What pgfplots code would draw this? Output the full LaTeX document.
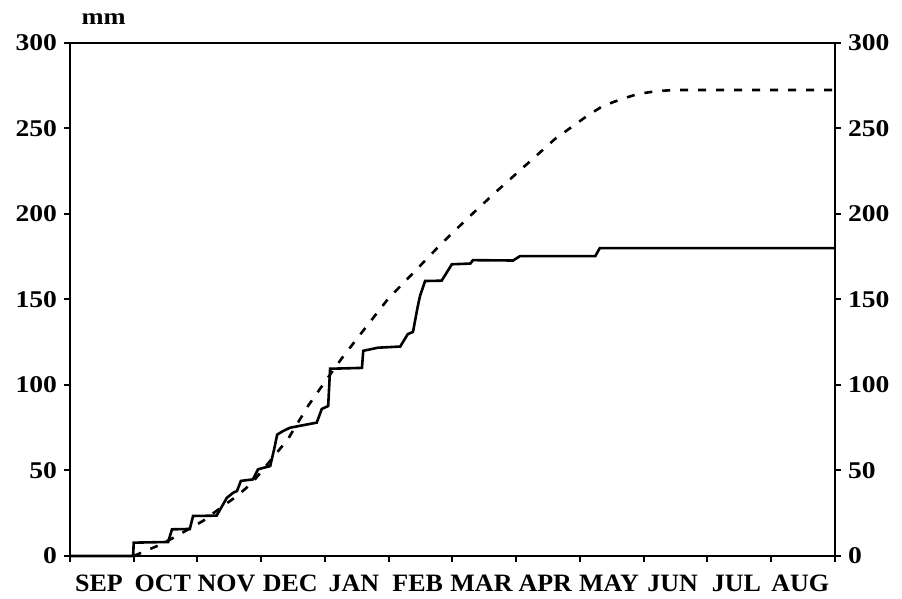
\documentclass[border=0pt]{standalone}
\usepackage{fontspec}
\setmainfont{Liberation Serif}[FakeStretch=1.15]
\newfontfamily\monthfont{Liberation Serif}[FakeStretch=1.04]
\usepackage{pgfplots}
\pgfplotsset{compat=1.18}
\begin{document}
\begin{tikzpicture}
\pgfplotsset{
 common/.style={
  scale only axis, width=382.5pt, height=256.5pt,
  xmin=0, xmax=12, ymin=0, ymax=300,
  axis line style={line width=1.3pt},
  tick style={line width=1.0pt, black},
  ytick={0,50,...,300},
  tick align=outside,
  major tick length=3pt,
  /pgf/number format/assume math mode=true,
  ticklabel style={font=\fontsize{12}{13}\selectfont\bfseries},
 }
}
\begin{axis}[common,
  clip=false,
  ytick pos=left,
  xtick={0,...,11},
  xticklabels={SEP,OCT,NOV,DEC,JAN,FEB,MAR,APR,MAY,JUN,JUL,AUG},
  xticklabel style={anchor=north, xshift=14.5pt, yshift=-3pt, font=\monthfont\fontsize{12.5}{13}\selectfont\bfseries},
  extra x ticks={12}, extra x tick labels={},
  xtick pos=bottom,
]
\addplot[black, line width=1.3pt] coordinates {
(0,0) (0.99,0) (1.0,7.8) (1.54,8.2) (1.60,15.6) (1.88,15.8) (1.93,23.4) (2.30,23.6)
(2.46,34) (2.56,37) (2.62,38) (2.68,43.9) (2.87,44.8) (2.95,50.7) (3.14,52.6)
(3.20,62) (3.25,71) (3.34,73) (3.45,75) (3.87,78) (3.95,86) (4.05,87.7) (4.08,109.5)
(4.58,110) (4.60,120) (4.83,121.8) (5.18,122.5) (5.30,129.8) (5.38,131) (5.45,145)
(5.49,152) (5.57,160.8) (5.83,161) (5.99,170.6) (6.28,171) (6.32,173) (6.95,172.8)
(7.06,175.4) (8.24,175.4) (8.31,180) (12,180)
};
\addplot[black, line width=1.3pt, dash pattern=on 4pt off 5pt] coordinates {
(1.0,0) (1.365,5.8) (1.616,10.5) (2.086,20.5) (2.4,29.2) (2.62,35.1) (2.855,42.7)
(3.42,68.4) (3.733,87.7) (3.953,99.4) (4.267,115.8) (4.596,131.6) (4.988,150.3)
(5.443,167.8) (5.835,183) (6.243,197.7) (6.698,213.5) (7.169,229.2) (7.608,243.9)
(8.11,257.3) (8.36,263.2) (8.659,267.3) (8.91,270.2) (9.208,271.9) (9.49,272.5) (12,272.5)
};
\node[font=\fontsize{11.5}{12}\selectfont\bfseries, anchor=base, yshift=9pt] at (rel axis cs:0.044,1) {mm};
\end{axis}
\begin{axis}[common,
  ytick pos=right, yticklabel pos=right,
  xtick=\empty,
]
\end{axis}
\pgfresetboundingbox
\path ([xshift=-35pt,yshift=-21.5pt]current axis.south west) rectangle ([xshift=33.5pt,yshift=21.5pt]current axis.north east);
\end{tikzpicture}
\end{document}
